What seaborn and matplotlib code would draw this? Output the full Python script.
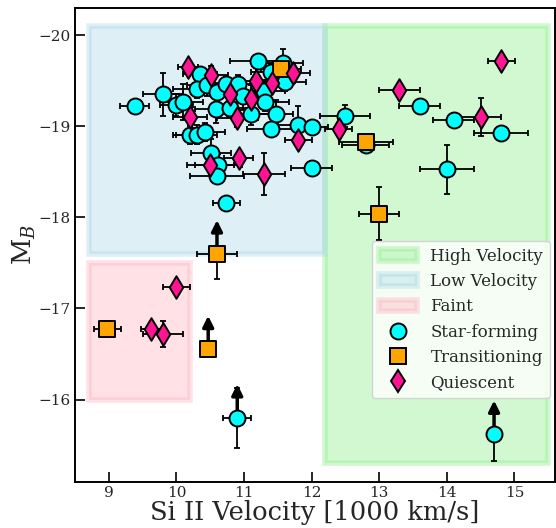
import matplotlib
matplotlib.use("Agg")
import matplotlib.pyplot as plt
import seaborn as sns
import numpy as np
from matplotlib.patches import Rectangle, Patch

# ---- data ----
sf_x = [9.38, 9.80, 10.00, 10.10, 10.35, 10.30, 10.45, 10.60, 10.58, 10.74, 10.80, 10.91, 10.99, 11.10,
        11.20, 11.30, 11.31, 11.40, 11.47, 11.40, 11.61, 11.58, 11.80, 12.00, 10.20, 10.30, 10.42, 10.51,
        10.62, 10.60, 10.74, 12.00, 12.50, 13.60, 14.10, 14.80, 14.00, 12.80, 10.90, 14.70]
sf_y = [-19.22, -19.35, -19.23, -19.27, -19.57, -19.41, -19.45, -19.38, -19.19, -19.46, -19.20, -19.46, -19.33, -19.13,
        -19.72, -19.39, -19.27, -19.60, -19.14, -18.97, -19.49, -19.70, -19.02, -18.99, -18.91, -18.91, -18.94, -18.71,
        -18.58, -18.45, -18.16, -18.54, -19.11, -19.22, -19.07, -18.93, -18.53, -18.80, -15.80, -15.62]
sf_xerr = [0.22, 0.30, 0.25, 0.30, 0.25, 0.35, 0.30, 0.25, 0.30, 0.25, 0.30, 0.25, 0.30, 0.35,
           0.40, 0.30, 0.35, 0.30, 0.25, 0.35, 0.30, 0.30, 0.30, 0.25, 0.25, 0.30, 0.30, 0.30,
           0.35, 0.40, 0.20, 0.30, 0.37, 0.30, 0.30, 0.40, 0.40, 0.35, 0.21, 0.00]
sf_yerr = [0.03, 0.24, 0.12, 0.20, 0.08, 0.10, 0.12, 0.10, 0.15, 0.08, 0.10, 0.10, 0.15, 0.12,
           0.05, 0.12, 0.10, 0.08, 0.15, 0.05, 0.10, 0.15, 0.20, 0.05, 0.10, 0.10, 0.10, 0.15,
           0.12, 0.05, 0.03, 0.08, 0.12, 0.08, 0.08, 0.05, 0.27, 0.05, 0.33, 0.30]
sf_lim = [False] * 38 + [True, True]

tr_x = [11.55, 12.80, 13.00, 10.60, 8.98, 10.47]
tr_y = [-19.63, -18.83, -18.04, -17.60, -16.78, -16.55]
tr_xerr = [0.30, 0.40, 0.30, 0.30, 0.20, 0.00]
tr_yerr = [0.05, 0.03, 0.29, 0.28, 0.00, 0.00]
tr_lim = [False, False, False, True, False, True]

qu_x = [10.17, 10.51, 10.80, 11.18, 11.10, 11.41, 11.72, 10.20, 10.90, 11.80, 10.92, 10.50, 11.30,
        12.40, 13.30, 14.50, 14.81, 10.00, 9.63, 9.80]
qu_y = [-19.65, -19.56, -19.36, -19.50, -19.30, -19.48, -19.58, -19.10, -19.09, -18.85, -18.65, -18.57, -18.48,
        -18.97, -19.40, -19.10, -19.72, -17.24, -16.77, -16.72]
qu_xerr = [0.15, 0.25, 0.25, 0.30, 0.30, 0.25, 0.25, 0.25, 0.30, 0.20, 0.22, 0.35, 0.31,
           0.20, 0.30, 0.30, 0.20, 0.20, 0.15, 0.30]
qu_yerr = [0.05, 0.10, 0.10, 0.15, 0.15, 0.10, 0.10, 0.10, 0.10, 0.05, 0.05, 0.05, 0.23,
           0.05, 0.03, 0.21, 0.03, 0.03, 0.03, 0.14]

# regions
reg_names = ["High Velocity", "Low Velocity", "Faint"]
reg_x0 = [12.2, 8.7, 8.7]
reg_x1 = [15.5, 12.2, 10.2]
reg_y0 = [-20.1, -20.1, -17.5]
reg_y1 = [-15.3, -17.6, -16.0]
reg_col = ["lightgreen", "lightblue", "lightpink"]

arrow_len = 0.37

# ---- style ----
sns.set_theme(style="ticks")
plt.rcParams["font.family"] = ["DejaVu Serif"]
plt.rcParams["mathtext.fontset"] = "dejavuserif"

fig = plt.figure(figsize=(5.56, 5.28), dpi=100)
ax = fig.add_axes([0.135, 0.088, 0.863, 0.897])

handles = []
for n, x0, x1, y0, y1, c in zip(reg_names, reg_x0, reg_x1, reg_y0, reg_y1, reg_col):
    ax.add_patch(Rectangle((x0, y0), x1 - x0, y1 - y0, facecolor=c, edgecolor=c,
                           alpha=0.4, lw=4, zorder=0))
    handles.append(Patch(facecolor=c, edgecolor=c, alpha=0.4, lw=4, label=n))

ms = 11.5
groups = [
    (sf_x, sf_y, sf_xerr, sf_yerr, sf_lim, "o", "cyan", "Star-forming"),
    (tr_x, tr_y, tr_xerr, tr_yerr, tr_lim, "s", "orange", "Transitioning"),
    (qu_x, qu_y, qu_xerr, qu_yerr, [False] * len(qu_x), "d", "deeppink", "Quiescent"),
]
for gx, gy, gxe, gye, glim, mk, col, lab in groups:
    ax.errorbar(gx, gy, xerr=gxe, yerr=gye, fmt="none", ecolor="black", elinewidth=1.3,
                capsize=2, capthick=1.3, zorder=2)
    for xi, yi, li in zip(gx, gy, glim):
        if li:
            ax.annotate("", xy=(xi, yi - arrow_len), xytext=(xi, yi),
                        arrowprops=dict(arrowstyle="-|>", lw=2.5, color="black",
                                        mutation_scale=16, shrinkA=0, shrinkB=0), zorder=2)
    sns.scatterplot(x=gx, y=gy, marker=mk, color=col, edgecolor="black", linewidth=1.4,
                    s=ms ** 2, ax=ax, zorder=3, label=lab, legend=False)
    handles.append(plt.Line2D([], [], ls="none", marker=mk, markersize=ms, markerfacecolor=col,
                              markeredgecolor="black", markeredgewidth=1.4, label=lab))

ax.set_xlim(8.5, 15.6)
ax.set_ylim(-15.1, -20.3)
ax.set_xticks([9, 10, 11, 12, 13, 14, 15])
ax.set_yticks([-20, -19, -18, -17, -16])
ax.tick_params(direction="in", length=7, width=1.4, labelsize=11, top=False, right=False)
for sp in ax.spines.values():
    sp.set_linewidth(1.4)
    sp.set_color("black")
ax.set_xlabel("Si II Velocity [1000 km/s]", fontsize=18.5, labelpad=0)
ax.set_ylabel("M$_B$", fontsize=18.5, labelpad=0)

ax.legend(handles=handles, loc="upper left", bbox_to_anchor=(0.619, 0.508), borderaxespad=0,
          fontsize=12, labelspacing=0.5, handlelength=2.3, framealpha=0.8)

fig.savefig("out.png", dpi=100)
